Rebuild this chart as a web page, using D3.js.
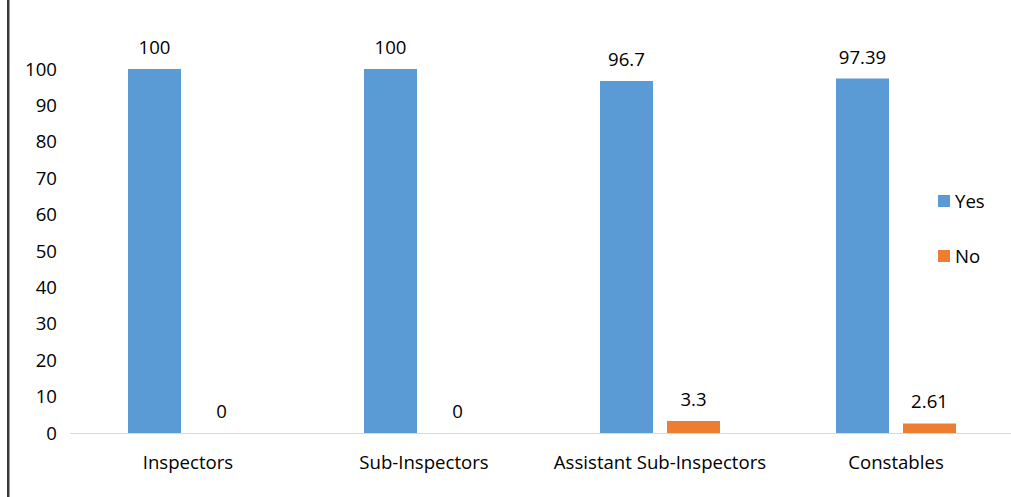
<!DOCTYPE html>
<html><head><meta charset="utf-8">
<script src="https://cdn.jsdelivr.net/npm/d3@7"></script>
<style>body{margin:0;background:#fff}svg{display:block}text{font-family:"Open Sans",Lato,sans-serif;fill:#000}</style>
</head><body>
<script>
const categories = ["Inspectors","Sub-Inspectors","Assistant Sub-Inspectors","Constables"];
const seriesNames = ["Yes","No"];
const yesValues = [100,100,96.7,97.39];
const noValues = [0,0,3.3,2.61];
const yesLabels = ["100","100","96.7","97.39"];
const noLabels = ["0","0","3.3","2.61"];
const yTicks = [0,10,20,30,40,50,60,70,80,90,100];
const colors = ["#5B9BD5","#ED7D31"];

const W=1011,H=497, FS="18.6px";
const svg=d3.select("body").append("svg").attr("width",W).attr("height",H);
svg.append("rect").attr("x",7).attr("y",0).attr("width",2.5).attr("height",H).attr("fill","#3a3a3a");

const x0=d3.scaleBand().domain(categories).range([70,1014]).paddingInner(0).paddingOuter(0);
const y=d3.scaleLinear().domain([0,100]).range([433,69]);
const barW=53, gap=14;

// y tick labels
svg.append("g").selectAll("text").data(yTicks).join("text")
  .attr("x",57).attr("y",d=>y(d)).attr("dy","0.35em").attr("text-anchor","end")
  .style("font-size",FS).text(d=>d);

// axis line
svg.append("line").attr("x1",70).attr("x2",W).attr("y1",y(0)+0.5).attr("y2",y(0)+0.5)
  .attr("stroke","#d9d9d9").attr("stroke-width",1);

const series=[yesValues,noValues];
const labels=[yesLabels,noLabels];
series.forEach((vals,si)=>{
  const g=svg.append("g");
  const cx=(c)=>x0(c)+x0.bandwidth()/2 + (si===0 ? -(gap/2+barW) : gap/2);
  g.selectAll("rect").data(categories).join("rect")
    .attr("x",(c)=>cx(c)).attr("width",barW)
    .attr("y",(c,i)=>y(vals[i])).attr("height",(c,i)=>y(0)-y(vals[i]))
    .attr("fill",colors[si]);
  g.selectAll("text").data(categories).join("text")
    .attr("x",(c)=>cx(c)+barW/2).attr("y",(c,i)=>y(vals[i])-15)
    .attr("text-anchor","middle").style("font-size",FS)
    .text((c,i)=>labels[si][i]);
});

// category labels
svg.append("g").selectAll("text").data(categories).join("text")
  .attr("x",c=>x0(c)+x0.bandwidth()/2).attr("y",469).attr("text-anchor","middle")
  .style("font-size",FS).text(d=>d);

// legend
const leg=svg.append("g");
seriesNames.forEach((n,i)=>{
  const ly=[200,255][i];
  leg.append("rect").attr("x",938).attr("y",ly-5).attr("width",12).attr("height",12).attr("fill",colors[i]);
  leg.append("text").attr("x",955).attr("y",ly+1).attr("dy","0.35em").style("font-size",FS).text(n);
});
</script>
</body></html>
